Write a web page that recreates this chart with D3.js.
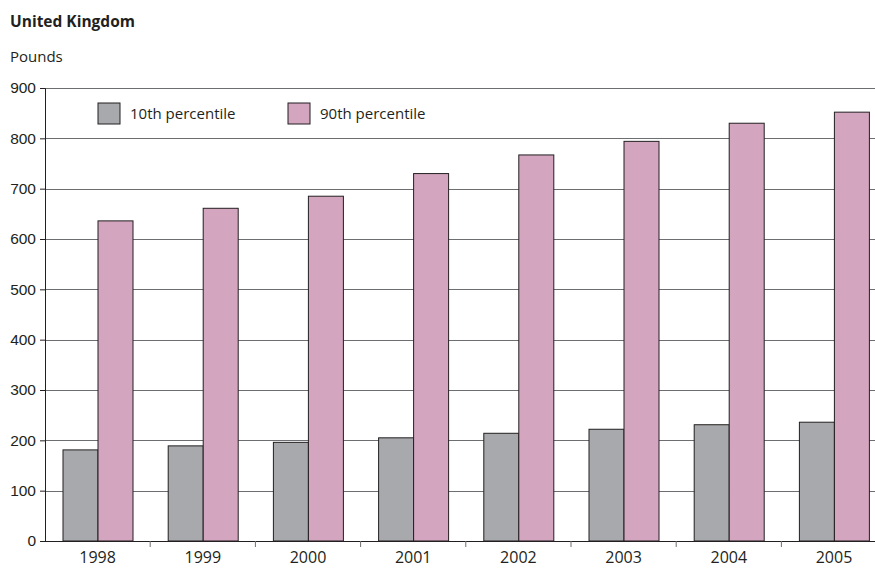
<!DOCTYPE html>
<html>
<head>
<meta charset="utf-8">
<script src="https://cdn.jsdelivr.net/npm/d3@7"></script>
<style>
  body { margin: 0; background: #fff; }
  svg { display: block; font-family: "Open Sans", "Noto Sans", sans-serif; }
</style>
</head>
<body>
<script>
// data
var years = ["1998", "1999", "2000", "2001", "2002", "2003", "2004", "2005"];
var p10 = [181, 189, 196, 205, 214, 222, 231, 236];
var p90 = [636, 661, 685, 730, 767, 794, 830, 852];
var seriesNames = ["10th percentile", "90th percentile"];
var seriesColors = ["#a7a9ac", "#d3a5bf"];
var yTicks = [0, 100, 200, 300, 400, 500, 600, 700, 800, 900];

var W = 875, H = 570;
var plotLeft = 45, plotTop = 88, plotBottom = 541;
var bandW = 105.2;
var plotRight = plotLeft + bandW * years.length; // chart runs past the crop edge

var svg = d3.select("body").append("svg")
  .attr("width", W)
  .attr("height", H);

var x = d3.scaleBand()
  .domain(years)
  .range([plotLeft, plotRight])
  .padding(0);

// inner scale: bars start ~18px into the band, ~35px each
var xs = d3.scaleBand()
  .domain([0, 1])
  .range([18, 88])
  .padding(0);

var y = d3.scaleLinear()
  .domain([0, 900])
  .range([plotBottom, plotTop]);

// title + unit
svg.append("text")
  .attr("x", 10).attr("y", 27)
  .style("font-size", "15.5px")
  .style("font-weight", "bold")
  .style("fill", "#231f20")
  .text("United Kingdom");

svg.append("text")
  .attr("x", 10).attr("y", 62)
  .style("font-size", "15px")
  .style("fill", "#231f20")
  .text("Pounds");

// gridlines
svg.append("g")
  .selectAll("line")
  .data(yTicks.filter(function(d) { return d > 0; }))
  .join("line")
  .attr("x1", plotLeft).attr("x2", W)
  .attr("y1", function(d) { return Math.round(y(d)) + 0.5; })
  .attr("y2", function(d) { return Math.round(y(d)) + 0.5; })
  .attr("stroke", "#6d6e71")
  .attr("stroke-width", 1.2);

// bars
var rows = years.map(function(yr, i) { return { year: yr, vals: [p10[i], p90[i]] }; });

var groups = svg.append("g")
  .selectAll("g")
  .data(rows)
  .join("g")
  .attr("transform", function(d) { return "translate(" + x(d.year) + ",0)"; });

groups.selectAll("rect")
  .data(function(d) { return d.vals; })
  .join("rect")
  .attr("x", function(d, i) { return xs(i); })
  .attr("width", xs.bandwidth())
  .attr("y", function(d) { return y(d); })
  .attr("height", function(d) { return plotBottom - y(d); })
  .attr("fill", function(d, i) { return seriesColors[i]; })
  .attr("stroke", "#231f20")
  .attr("stroke-width", 1);

// y axis
var yAxis = svg.append("g")
  .attr("transform", "translate(" + plotLeft + ",0)")
  .call(d3.axisLeft(y).tickValues(yTicks).tickSize(5).tickPadding(4).tickFormat(d3.format("d")));

yAxis.select(".domain").attr("stroke", "#231f20");
yAxis.selectAll(".tick line").attr("stroke", "#231f20");
yAxis.selectAll("text")
  .style("font-size", "15.5px")
  .style("fill", "#231f20")
  .attr("font-family", null);

// x axis: baseline plus ticks at band boundaries
svg.append("line")
  .attr("x1", plotLeft).attr("x2", W)
  .attr("y1", plotBottom + 0.5).attr("y2", plotBottom + 0.5)
  .attr("stroke", "#231f20");

svg.append("g")
  .selectAll("line")
  .data(years.slice(1))
  .join("line")
  .attr("x1", function(d) { return x(d); })
  .attr("x2", function(d) { return x(d); })
  .attr("y1", plotBottom).attr("y2", plotBottom + 6)
  .attr("stroke", "#6d6e71");

svg.append("g")
  .selectAll("text")
  .data(years)
  .join("text")
  .attr("x", function(d) { return x(d) + x.bandwidth() / 2; })
  .attr("y", 563)
  .attr("text-anchor", "middle")
  .style("font-size", "16px")
  .style("fill", "#231f20")
  .text(function(d) { return d; });

// legend
var legendX = [98, 288];
var legend = svg.append("g")
  .selectAll("g")
  .data(seriesNames)
  .join("g")
  .attr("transform", function(d, i) { return "translate(" + legendX[i] + ",103)"; });

legend.append("rect")
  .attr("width", 22).attr("height", 21)
  .attr("fill", function(d, i) { return seriesColors[i]; })
  .attr("stroke", "#231f20");

legend.append("text")
  .attr("x", 32).attr("y", 16)
  .style("font-size", "15px")
  .style("fill", "#231f20")
  .text(function(d) { return d; });
</script>
</body>
</html>
